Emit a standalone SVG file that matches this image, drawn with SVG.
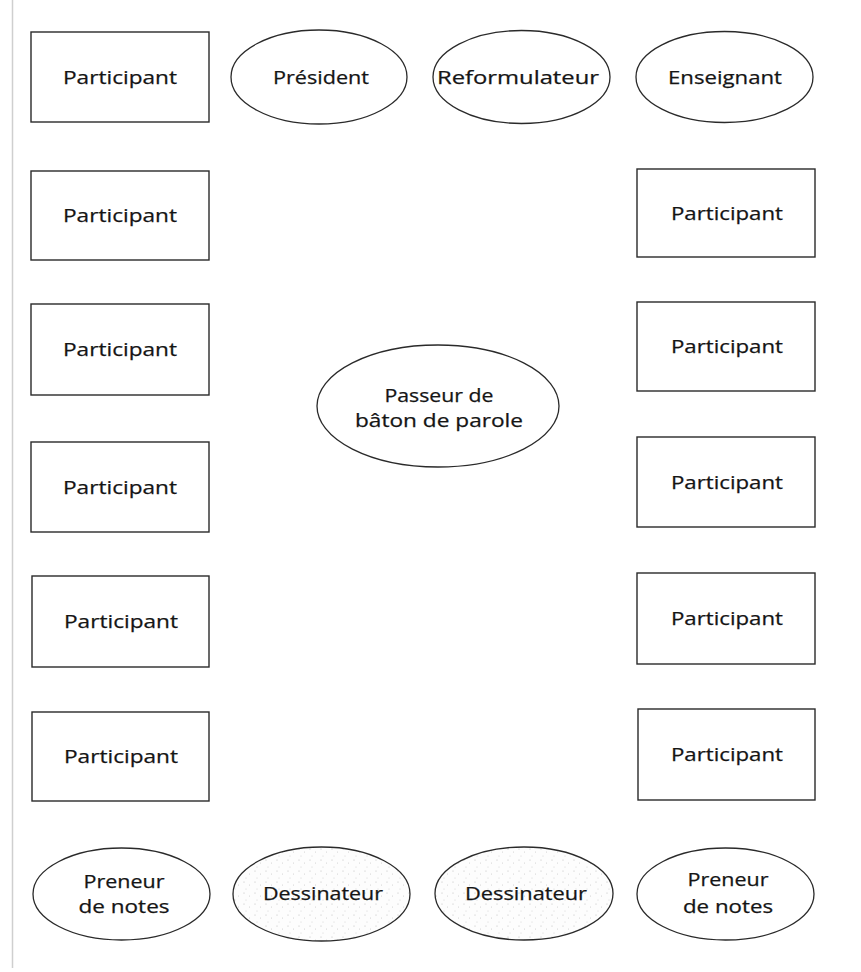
<svg xmlns="http://www.w3.org/2000/svg" width="861" height="972" viewBox="0 0 861 972">
<style>
.box{fill:none;stroke:#2a2a2a;stroke-width:1.4}
.ell{fill:none;stroke:#2a2a2a;stroke-width:1.3}
.dot{fill:url(#stipple);stroke:#2a2a2a;stroke-width:1.3}
text{font-family:"Open Sans","Noto Sans","Liberation Sans",sans-serif;font-size:19px;fill:#151515;stroke:#151515;stroke-width:0.25;text-anchor:middle}
</style>
<defs>
<pattern id="stipple" width="11" height="11" patternUnits="userSpaceOnUse">
<rect width="11" height="11" fill="#fdfdfd"/>
<circle cx="2" cy="2" r="0.6" fill="#bdbdbd"/>
<circle cx="7.5" cy="5" r="0.5" fill="#c8c8c8"/>
<circle cx="4" cy="9" r="0.5" fill="#cccccc"/>
</pattern>
</defs>
<rect width="861" height="972" fill="#ffffff"/>
<line x1="12.5" y1="0" x2="12.5" y2="968" stroke="#cfcfcf" stroke-width="1.5"/>

<g id="top-participant"><rect class="box" x="31" y="32" width="178" height="90"/><text x="120" y="84" textLength="114" lengthAdjust="spacingAndGlyphs">Participant</text></g>
<g id="president"><ellipse class="ell" cx="319" cy="77" rx="88" ry="47"/><text x="321" y="84" textLength="96" lengthAdjust="spacingAndGlyphs">Président</text></g>
<g id="reformulateur"><ellipse class="ell" cx="521.5" cy="77" rx="88.5" ry="46.5"/><text x="518" y="84" textLength="162" lengthAdjust="spacingAndGlyphs">Reformulateur</text></g>
<g id="enseignant"><ellipse class="ell" cx="724.5" cy="77" rx="88.5" ry="45.5"/><text x="725" y="84" textLength="114" lengthAdjust="spacingAndGlyphs">Enseignant</text></g>

<g id="left-1"><rect class="box" x="31" y="171" width="178" height="89"/><text x="120" y="222" textLength="114" lengthAdjust="spacingAndGlyphs">Participant</text></g>
<g id="left-2"><rect class="box" x="31" y="304" width="178" height="91"/><text x="120" y="356" textLength="114" lengthAdjust="spacingAndGlyphs">Participant</text></g>
<g id="left-3"><rect class="box" x="31" y="442" width="178" height="90"/><text x="120" y="494" textLength="114" lengthAdjust="spacingAndGlyphs">Participant</text></g>
<g id="left-4"><rect class="box" x="32" y="576" width="177" height="91"/><text x="121" y="628" textLength="114" lengthAdjust="spacingAndGlyphs">Participant</text></g>
<g id="left-5"><rect class="box" x="32" y="712" width="177" height="89"/><text x="121" y="763" textLength="114" lengthAdjust="spacingAndGlyphs">Participant</text></g>

<g id="right-1"><rect class="box" x="637" y="169" width="178" height="88"/><text x="727" y="220" textLength="112" lengthAdjust="spacingAndGlyphs">Participant</text></g>
<g id="right-2"><rect class="box" x="637" y="302" width="178" height="89"/><text x="727" y="353" textLength="112" lengthAdjust="spacingAndGlyphs">Participant</text></g>
<g id="right-3"><rect class="box" x="637" y="437" width="178" height="90"/><text x="727" y="489" textLength="112" lengthAdjust="spacingAndGlyphs">Participant</text></g>
<g id="right-4"><rect class="box" x="637" y="573" width="178" height="91"/><text x="727" y="625" textLength="112" lengthAdjust="spacingAndGlyphs">Participant</text></g>
<g id="right-5"><rect class="box" x="638" y="709" width="177" height="91"/><text x="727" y="761" textLength="112" lengthAdjust="spacingAndGlyphs">Participant</text></g>

<g id="passeur"><ellipse class="ell" cx="438" cy="406" rx="121" ry="61"/><text x="439" y="402" textLength="109" lengthAdjust="spacingAndGlyphs">Passeur de</text><text x="439" y="427" textLength="168" lengthAdjust="spacingAndGlyphs">bâton de parole</text></g>

<g id="preneur-left"><ellipse class="ell" cx="121.5" cy="894" rx="88.5" ry="46"/><text x="124" y="888" textLength="81" lengthAdjust="spacingAndGlyphs">Preneur</text><text x="124" y="913" textLength="91" lengthAdjust="spacingAndGlyphs">de notes</text></g>
<g id="dessinateur-left"><ellipse class="dot" cx="321.5" cy="894" rx="88.5" ry="47"/><text x="323" y="900" textLength="120" lengthAdjust="spacingAndGlyphs">Dessinateur</text></g>
<g id="dessinateur-right"><ellipse class="dot" cx="524" cy="893.5" rx="89" ry="46.5"/><text x="526" y="900" textLength="122" lengthAdjust="spacingAndGlyphs">Dessinateur</text></g>
<g id="preneur-right"><ellipse class="ell" cx="725.5" cy="894" rx="88.5" ry="46"/><text x="728" y="886" textLength="81" lengthAdjust="spacingAndGlyphs">Preneur</text><text x="728" y="913" textLength="90" lengthAdjust="spacingAndGlyphs">de notes</text></g>

<g id="connectors"></g>
</svg>
